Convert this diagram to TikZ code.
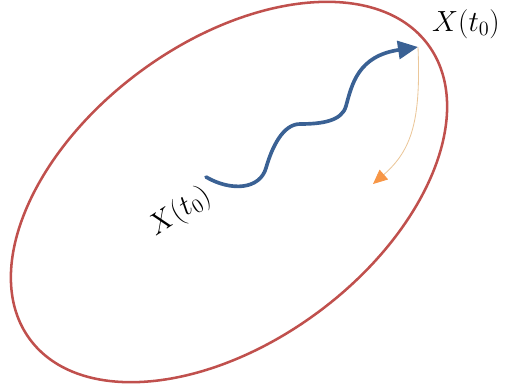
\documentclass[tikz,border=0pt]{standalone}
\usetikzlibrary{arrows.meta}
\definecolor{rougeb}{HTML}{C0504D}
\definecolor{bleuc}{HTML}{3A6194}
\definecolor{orangef}{HTML}{F79646}
\definecolor{orangep}{HTML}{EBC79A}
\tikzset{
  bord/.style={rougeb, line width=1.8pt},
  vague/.style={bleuc, line width=2.6pt, line cap=round,
    -{Triangle[length=0.5cm, width=0.45cm]}},
  retour/.style={orangep, line width=0.6pt,
    -{Triangle[length=0.36cm, width=0.32cm, color=orangef]}},
  etiq/.style={font=\fontsize{20}{24}\selectfont, inner sep=1pt}
}
\begin{document}
\begin{tikzpicture}[x=0.025cm, y=-0.025cm]
    \useasboundingbox (0,0) rectangle (506,391);

    % Ellipse
    \coordinate (centre) at (229,192);
    \draw[bord, rotate around={36.5:(centre)}] (centre) ellipse [x radius=6.19cm, y radius=3.74cm];

    % Points
    \coordinate (depart) at (206,177);
    \coordinate (arrivee) at (418,47);
    \coordinate (retourfin) at (373,184);

    % Trajectoire
    \draw[vague] (depart) .. controls (232,192) and (260,189) .. (266,168)
        .. controls (272,147) and (283,124) .. (300,124)
        .. controls (322,124) and (342,121) .. (346,106)
        .. controls (352,84) and (358,56) .. (arrivee);

    % Retour
    \draw[retour] (arrivee) .. controls (421,120) and (412,150) .. (retourfin);

    % Etiquettes
    \node[etiq] (etiqfin) at (466,24) {$X(t_0)$};
    \node[etiq, rotate=33] (etiqdebut) at (180,212) {$X(t_0)$};
\end{tikzpicture}
\end{document}
